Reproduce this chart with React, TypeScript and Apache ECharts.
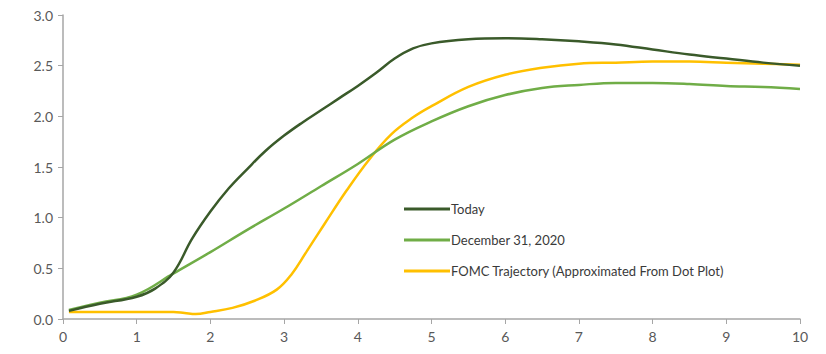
import React, { useEffect, useRef } from "react";
import * as echarts from "echarts";

// Years (x) and rate levels (%) for each path
const todayX = [0.08, 0.5, 1.0, 1.25, 1.5, 1.75, 2.0, 2.25, 2.5, 2.75, 3.0, 3.25, 3.5, 3.75, 4.0, 4.25, 4.5, 4.75, 5.0, 5.5, 6.0, 6.5, 7.0, 7.5, 8.0, 8.5, 9.0, 9.5, 10.0];
const todayY = [0.08, 0.15, 0.22, 0.3, 0.46, 0.79, 1.06, 1.29, 1.48, 1.66, 1.81, 1.94, 2.06, 2.18, 2.3, 2.43, 2.57, 2.67, 2.72, 2.76, 2.77, 2.76, 2.74, 2.71, 2.66, 2.61, 2.57, 2.53, 2.5];

const dec2020X = [0.08, 0.5, 1.0, 1.5, 2.0, 2.5, 3.0, 3.5, 4.0, 4.5, 5.0, 5.5, 6.0, 6.5, 7.0, 7.5, 8.0, 8.5, 9.0, 9.5, 10.0];
const dec2020Y = [0.09, 0.16, 0.24, 0.45, 0.66, 0.88, 1.09, 1.31, 1.53, 1.77, 1.95, 2.1, 2.21, 2.28, 2.31, 2.33, 2.33, 2.32, 2.3, 2.29, 2.27];

const fomcX = [0.08, 0.5, 1.0, 1.5, 1.65, 1.8, 2.0, 2.3, 2.6, 2.9, 3.1, 3.3, 3.55, 3.85, 4.15, 4.45, 4.75, 5.0, 5.5, 6.0, 6.5, 7.0, 7.5, 8.0, 8.5, 9.0, 9.5, 10.0];
const fomcY = [0.07, 0.07, 0.07, 0.07, 0.06, 0.05, 0.07, 0.11, 0.18, 0.29, 0.44, 0.66, 0.94, 1.27, 1.57, 1.82, 1.99, 2.1, 2.29, 2.41, 2.48, 2.52, 2.53, 2.54, 2.54, 2.53, 2.52, 2.51];

const seriesNames = ["Today", "December 31, 2020", "FOMC Trajectory (Approximated From Dot Plot)"];
const seriesColors = ["#3a5a2a", "#70ad47", "#ffc000"];

const yTicks = ["0.0", "0.5", "1.0", "1.5", "2.0", "2.5", "3.0"];

const zip = (xs: number[], ys: number[]) => xs.map((x, i) => [x, ys[i]]);

export default function App() {
  const ref = useRef<HTMLDivElement>(null);

  useEffect(() => {
    if (!ref.current) return;
    const chart = echarts.init(ref.current, undefined, { renderer: "svg" });
    const font = "Lato, 'Open Sans', sans-serif";
    const data = [zip(todayX, todayY), zip(dec2020X, dec2020Y), zip(fomcX, fomcY)];

    chart.setOption({
      animation: false,
      backgroundColor: "#ffffff",
      grid: { left: 63, right: 26, top: 15, bottom: 35 },
      legend: {
        orient: "vertical",
        left: 399,
        top: 196,
        icon: "rect",
        itemWidth: 46,
        itemHeight: 3,
        itemGap: 15,
        data: seriesNames,
        textStyle: {
          fontFamily: font,
          fontSize: 13,
          color: "#3a3a3a",
          lineHeight: 16,
          padding: [0, 0, 0, -4],
        },
      },
      xAxis: {
        type: "value",
        min: 0,
        max: 10,
        interval: 1,
        axisLine: { lineStyle: { color: "#a6a6a6", width: 1.5 } },
        axisTick: { show: true, length: 5, lineStyle: { color: "#a6a6a6" } },
        splitLine: { show: false },
        axisLabel: { fontFamily: font, fontSize: 14, color: "#595959", margin: 10 },
      },
      yAxis: {
        type: "value",
        min: 0,
        max: 3,
        interval: 0.5,
        axisLine: { show: true, lineStyle: { color: "#a6a6a6", width: 1.5 } },
        axisTick: { show: true, length: 5, lineStyle: { color: "#a6a6a6" } },
        splitLine: { show: false },
        axisLabel: {
          fontFamily: font,
          fontSize: 14,
          color: "#595959",
          margin: 10,
          formatter: (v: number) => yTicks[Math.round(v * 2)] ?? v.toFixed(1),
        },
      },
      series: seriesNames.map((name, i) => ({
        name,
        type: "line",
        data: data[i],
        smooth: 0.4,
        showSymbol: false,
        symbol: "none",
        color: seriesColors[i],
        lineStyle: { color: seriesColors[i], width: 2.5 },
        z: 3 - i,
      })),
    });

    return () => chart.dispose();
  }, []);

  return (
    <div
      ref={ref}
      style={{ position: "fixed", left: 0, top: 0, width: 826, height: 354 }}
    />
  );
}
